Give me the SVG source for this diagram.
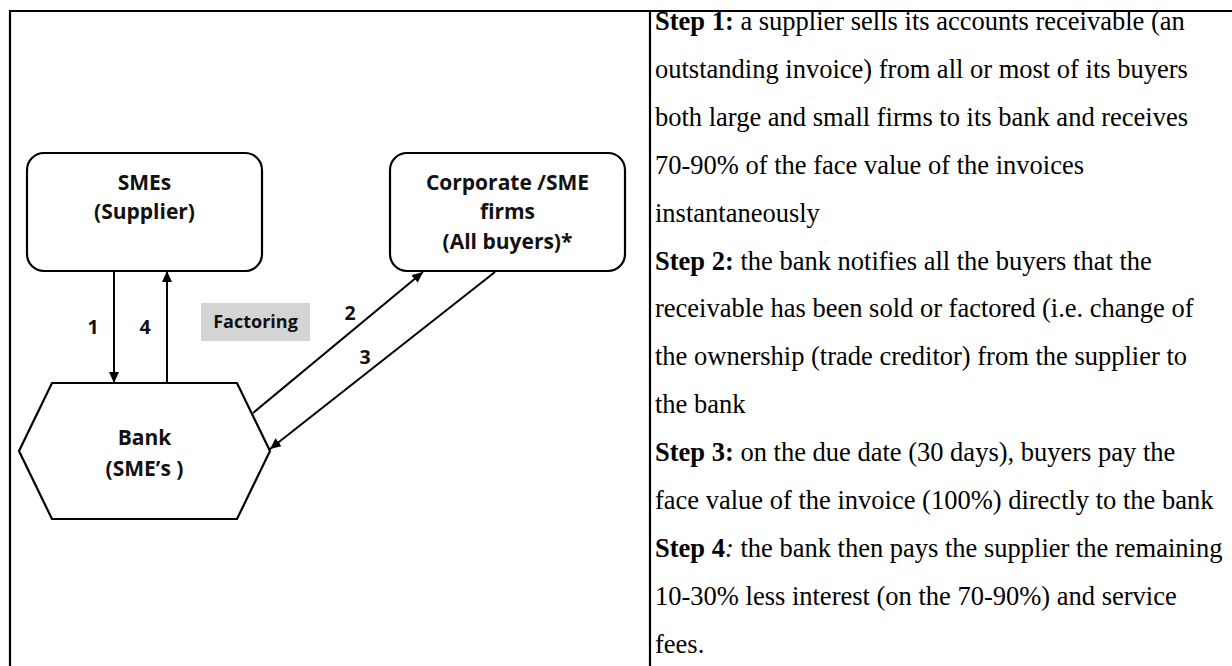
<svg xmlns="http://www.w3.org/2000/svg" width="1232" height="666" viewBox="0 0 1232 666">
  <style>
    .frame { stroke: #000; stroke-width: 2.2; fill: none; }
    .node { fill: #fff; stroke: #000; stroke-width: 2.2; }
    .ntext { font-family: "Open Sans", "Noto Sans", sans-serif; font-weight: 700; font-size: 21px; fill: #111; text-anchor: middle; }
    .lbl { font-family: "Open Sans", "Noto Sans", sans-serif; font-weight: 700; font-size: 18px; fill: #111; text-anchor: middle; }
    .num { font-size: 19.5px; }
    .edge { stroke: #000; stroke-width: 2; fill: none; marker-end: url(#arrow); }
    .body { font-family: "Liberation Serif", "Times New Roman", serif; font-size: 26.5px; fill: #000; }
    .b { font-weight: 700; }
  </style>
  <defs>
    <marker id="arrow" markerUnits="userSpaceOnUse" markerWidth="11" markerHeight="10" refX="11" refY="5" orient="auto">
      <path d="M0,0 L11,5 L0,10 z" fill="#000"/>
    </marker>
  </defs>

  <rect width="1232" height="666" fill="#fff"/>

  <!-- table frame -->
  <g id="frame">
    <line class="frame" x1="9" y1="11" x2="1232" y2="11"/>
    <line class="frame" x1="10" y1="10" x2="10" y2="666"/>
    <line class="frame" x1="650" y1="10" x2="650" y2="666"/>
  </g>

  <!-- nodes -->
  <g id="smes">
    <rect class="node" x="27" y="153" width="235" height="118" rx="17" ry="17"/>
    <text class="ntext" x="144.5" y="190">SMEs</text>
    <text class="ntext" x="144.5" y="219">(Supplier)</text>
  </g>

  <g id="buyers">
    <rect class="node" x="390" y="153" width="235" height="118" rx="17" ry="17"/>
    <text class="ntext" x="507.5" y="190">Corporate /SME</text>
    <text class="ntext" x="507.5" y="219">firms</text>
    <text class="ntext" x="507.5" y="249">(All buyers)*</text>
  </g>

  <g id="bank">
    <polygon class="node" points="52,383 237,383 270,451 237,519 52,519 19,451"/>
    <text class="ntext" x="144.5" y="445">Bank</text>
    <text class="ntext" x="144.5" y="476">(SME’s )</text>
  </g>

  <g id="factoring">
    <rect x="201" y="303" width="109" height="38" fill="#d4d4d4"/>
    <text class="lbl" x="255.5" y="328">Factoring</text>
  </g>

  <!-- connectors -->
  <g id="connectors">
    <line class="edge" x1="114" y1="271" x2="114" y2="383"/>
    <line class="edge" x1="167" y1="383" x2="167" y2="271"/>
    <line class="edge" x1="253" y1="413" x2="423" y2="272"/>
    <line class="edge" x1="495" y1="272" x2="270" y2="449"/>
    <text class="lbl num" x="93" y="334">1</text>
    <text class="lbl num" x="145" y="334">4</text>
    <text class="lbl num" x="350" y="320">2</text>
    <text class="lbl num" x="365" y="364">3</text>
  </g>

  <!-- step descriptions -->
  <g id="steps" class="body">
    <text x="655" y="30"><tspan class="b">Step 1:</tspan> a supplier sells its accounts receivable (an</text>
    <text x="655" y="77.9">outstanding invoice) from all or most of its buyers</text>
    <text x="655" y="125.8">both large and small firms to its bank and receives</text>
    <text x="655" y="173.7">70-90% of the face value of the invoices</text>
    <text x="655" y="221.6">instantaneously</text>
    <text x="655" y="269.5"><tspan class="b">Step 2:</tspan> the bank notifies all the buyers that the</text>
    <text x="655" y="317.4">receivable has been sold or factored (i.e. change of</text>
    <text x="655" y="365.3">the ownership (trade creditor) from the supplier to</text>
    <text x="655" y="413.2">the bank</text>
    <text x="655" y="461.1"><tspan class="b">Step 3:</tspan> on the due date (30 days), buyers pay the</text>
    <text x="655" y="509">face value of the invoice (100%) directly to the bank</text>
    <text x="655" y="556.9"><tspan class="b">Step 4</tspan><tspan font-style="italic">:</tspan> the bank then pays the supplier the remaining</text>
    <text x="655" y="604.8">10-30% less interest (on the 70-90%) and service</text>
    <text x="655" y="652.7">fees.</text>
  </g>
</svg>
